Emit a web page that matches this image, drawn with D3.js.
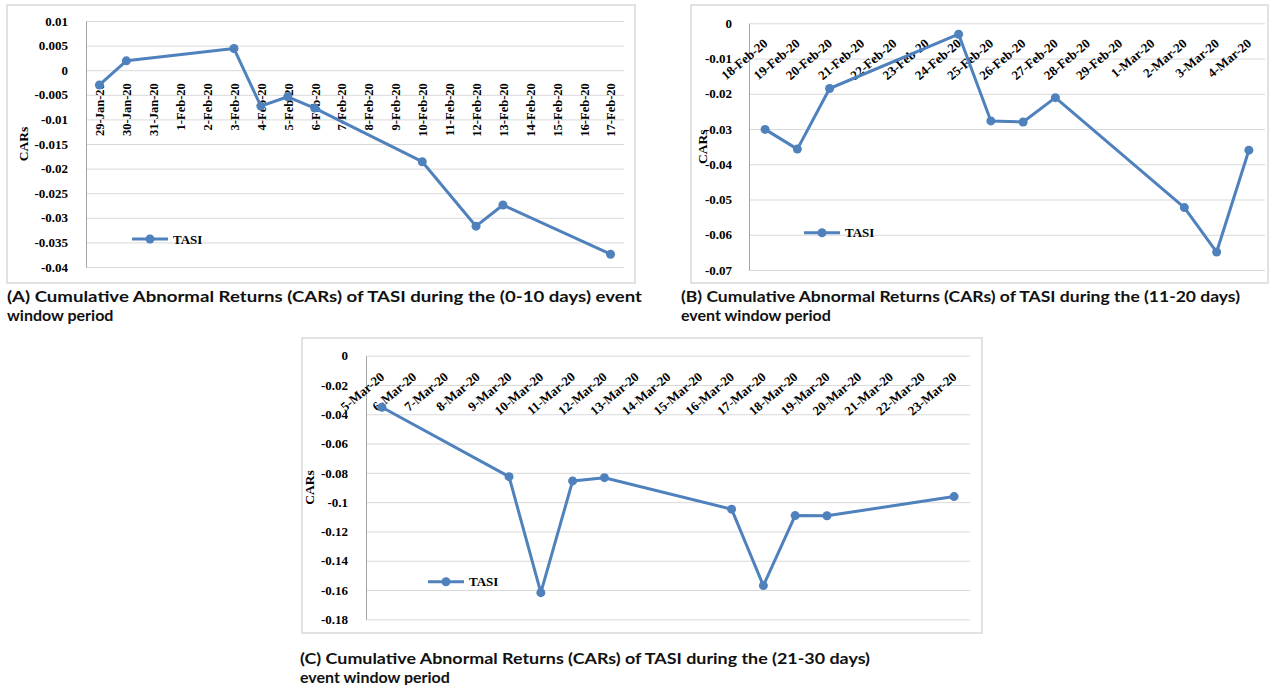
<!DOCTYPE html>
<html>
<head>
<meta charset="utf-8">
<script src="https://cdn.jsdelivr.net/npm/d3@7"></script>
<style>
  body { margin: 0; background: #fff; }
  svg { display: block; }
</style>
</head>
<body>
<svg id="chart" width="1273" height="685"></svg>
<script>
// dates on each category axis, null = no value plotted for that day
const datesA = ['29-Jan-20', '30-Jan-20', '31-Jan-20', '1-Feb-20', '2-Feb-20', '3-Feb-20', '4-Feb-20',
  '5-Feb-20', '6-Feb-20', '7-Feb-20', '8-Feb-20', '9-Feb-20', '10-Feb-20', '11-Feb-20', '12-Feb-20',
  '13-Feb-20', '14-Feb-20', '15-Feb-20', '16-Feb-20', '17-Feb-20']
const carsA = [-0.003, 0.0019, null, null, null, 0.0044, -0.0073, -0.0054, -0.0077, null, null, null,
  -0.0186, null, -0.0317, -0.0274, null, null, null, -0.0374]
const ticksA = [0.01, 0.005, 0, -0.005, -0.01, -0.015, -0.02, -0.025, -0.03, -0.035, -0.04]

const datesB = ['18-Feb-20', '19-Feb-20', '20-Feb-20', '21-Feb-20', '22-Feb-20', '23-Feb-20', '24-Feb-20',
  '25-Feb-20', '26-Feb-20', '27-Feb-20', '28-Feb-20', '29-Feb-20', '1-Mar-20', '2-Mar-20', '3-Mar-20', '4-Mar-20']
const carsB = [-0.0301, -0.0357, -0.0185, null, null, null, -0.0031, -0.0277, -0.028, -0.0211, null, null, null,
  -0.0523, -0.0649, -0.036]
const ticksB = [0, -0.01, -0.02, -0.03, -0.04, -0.05, -0.06, -0.07]

const datesC = ['5-Mar-20', '6-Mar-20', '7-Mar-20', '8-Mar-20', '9-Mar-20', '10-Mar-20', '11-Mar-20', '12-Mar-20',
  '13-Mar-20', '14-Mar-20', '15-Mar-20', '16-Mar-20', '17-Mar-20', '18-Mar-20', '19-Mar-20', '20-Mar-20',
  '21-Mar-20', '22-Mar-20', '23-Mar-20']
const carsC = [-0.0352, null, null, null, -0.0826, -0.1618, -0.0855, -0.0833, null, null, null, -0.1048, -0.157,
  -0.1092, -0.1093, null, null, null, -0.0962]
const ticksC = [0, -0.02, -0.04, -0.06, -0.08, -0.1, -0.12, -0.14, -0.16, -0.18]

const seriesName = 'TASI'
const captions = [
  ['(A) Cumulative Abnormal Returns (CARs) of TASI during the (0-10 days) event', 'window period'],
  ['(B) Cumulative Abnormal Returns (CARs) of TASI during the (11-20 days)', 'event window period'],
  ['(C) Cumulative Abnormal Returns (CARs) of TASI during the (21-30 days)', 'event window period']
]

const blue = '#4f81bd'
const serif = "'Liberation Serif', 'Times New Roman', serif"
const svg = d3.select('#chart')

function panel (dates, cars, ticks, box) {
  const g = svg.append('g').attr('class', 'panel')

  // chart border
  g.append('rect')
    .attr('x', box.fx).attr('y', box.fy)
    .attr('width', box.fw).attr('height', box.fh)
    .style('fill', '#fff').style('stroke', '#d9d9d9').style('stroke-width', 1.5)

  const x = d3.scalePoint().domain(dates).range([box.left, box.right]).padding(0.5)
  const y = d3.scaleLinear().domain([d3.min(ticks), d3.max(ticks)]).range([box.bottom, box.top])

  // gridlines
  g.append('g')
    .attr('transform', `translate(${box.left},0)`)
    .call(d3.axisLeft(y).tickValues(ticks).tickSize(-(box.right - box.left)).tickFormat(''))
    .call(a => a.select('.domain').remove())
    .call(a => a.selectAll('line').style('stroke', '#d9d9d9').style('stroke-width', 1))

  // value axis
  g.append('g')
    .attr('transform', `translate(${box.left},0)`)
    .call(d3.axisLeft(y).tickValues(ticks).tickSize(0).tickPadding(box.pad).tickFormat(d => String(d)))
    .call(a => a.select('.domain').style('stroke', '#a6a6a6').style('stroke-width', 1))
    .call(a => a.selectAll('text')
      .style('font-family', serif).style('font-weight', 'bold').style('font-size', '13px').style('fill', '#000'))

  // category axis, crossing at zero
  g.append('g')
    .attr('transform', `translate(0,${y(0)})`)
    .call(d3.axisBottom(x).tickSize(0))
    .call(a => a.select('.domain').remove())
    .call(a => a.selectAll('text')
      .attr('x', 0).attr('y', 0).attr('dy', '0.35em')
      .attr('text-anchor', 'end')
      .attr('transform', `translate(0,${box.labelOff}) rotate(${box.angle})`)
      .style('font-family', serif).style('font-weight', 'bold').style('font-size', box.labelSize).style('fill', '#000'))

  // axis title
  g.append('text')
    .attr('transform', `translate(${box.titleX},${(box.top + box.bottom) / 2}) rotate(-90)`)
    .attr('text-anchor', 'middle').attr('dy', '0.35em')
    .style('font-family', serif).style('font-weight', 'bold').style('font-size', '13.5px')
    .text('CARs')

  const pts = dates.map((d, i) => ({ d, v: cars[i] })).filter(p => p.v !== null)
  const line = d3.line().x(p => x(p.d)).y(p => y(p.v))

  g.append('path')
    .datum(pts)
    .attr('d', line)
    .style('fill', 'none').style('stroke', blue).style('stroke-width', 3).style('stroke-linejoin', 'round')

  g.selectAll('circle.pt').data(pts).enter().append('circle')
    .attr('class', 'pt')
    .attr('cx', p => x(p.d)).attr('cy', p => y(p.v))
    .attr('r', 4.5)
    .style('fill', blue)

  // legend
  const lg = g.append('g').attr('transform', `translate(${box.legX},${box.legY})`)
  lg.append('line').attr('x1', 0).attr('x2', 36).attr('y1', 0).attr('y2', 0)
    .style('stroke', blue).style('stroke-width', 3)
  lg.append('circle').attr('cx', 18).attr('cy', 0).attr('r', 4.5).style('fill', blue)
  lg.append('text').attr('x', 41).attr('dy', '0.35em')
    .style('font-family', serif).style('font-weight', 'bold').style('font-size', '13px')
    .text(seriesName)

  // caption under the chart
  const cap = g.append('text')
    .style('font-family', "Lato, 'Open Sans', sans-serif").style('font-weight', 'bold').style('font-size', '16px')
    .style('fill', '#111')
  cap.selectAll('tspan').data(box.caption).enter().append('tspan')
    .attr('x', box.capX)
    .attr('y', (d, i) => box.capY + i * 19)
    .attr('textLength', (d, i) => i === 0 ? box.capW : null)
    .attr('lengthAdjust', 'spacingAndGlyphs')
    .text(d => d)
}

panel(datesA, carsA, ticksA, {
  fx: 7, fy: 5, fw: 628, fh: 278,
  left: 86, right: 624, top: 21, bottom: 267,
  pad: 18, labelOff: 13, angle: -90, labelSize: '12.5px', titleX: 23,
  legX: 132, legY: 239,
  caption: captions[0], capX: 7, capY: 302, capW: 635
})

panel(datesB, carsB, ticksB, {
  fx: 691, fy: 5, fw: 577, fh: 278,
  left: 749, right: 1265, top: 23.3, bottom: 270,
  pad: 17, labelOff: 18, angle: -40, labelSize: '13px', titleX: 702,
  legX: 804, legY: 232.7,
  caption: captions[1], capX: 681, capY: 302, capW: 559
})

panel(datesC, carsC, ticksC, {
  fx: 302, fy: 338, fw: 680, fh: 295,
  left: 366, right: 970, top: 355.7, bottom: 619.3,
  pad: 18, labelOff: 19, angle: -40, labelSize: '13px', titleX: 309,
  legX: 428, legY: 581.7,
  caption: captions[2], capX: 300, capY: 664, capW: 570
})
</script>
</body>
</html>
